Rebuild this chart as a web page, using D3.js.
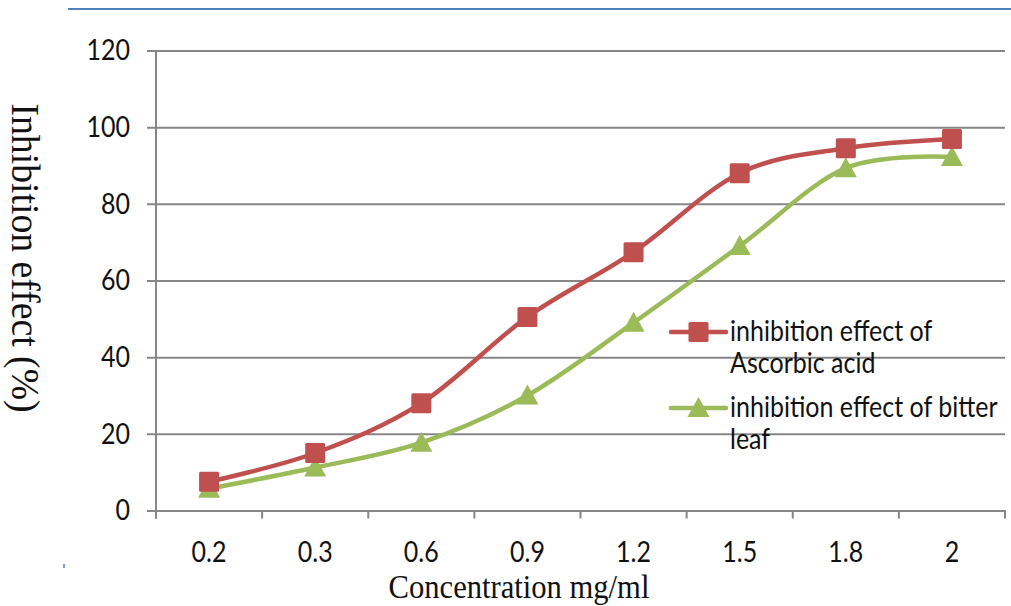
<!DOCTYPE html>
<html>
<head>
<meta charset="utf-8">
<script src="https://cdn.jsdelivr.net/npm/d3@7"></script>
<style>
  html, body { margin: 0; padding: 0; background: #fff; }
  svg { display: block; }
  .tall { transform-box: fill-box; transform-origin: center; transform: scaleY(1.15); }
</style>
</head>
<body>
<svg id="chart" width="1011" height="606"></svg>
<script>
// Concentrations (categorical axis) and inhibition percentages
const categories = ["0.2", "0.3", "0.6", "0.9", "1.2", "1.5", "1.8", "2"];
const ascorbic = [7.5, 15, 28, 50.5, 67.4, 88, 94.5, 96.9];
const bitterLeaf = [5.7, 11.2, 17.7, 30, 49, 69, 89.3, 92.2];
const yTicks = [0, 20, 40, 60, 80, 100, 120];

const svg = d3.select("#chart");
const plotLeft = 156, plotRight = 1005, plotTop = 50.5, plotBottom = 510.5;

const x = d3.scaleBand().domain(categories).range([plotLeft, plotRight]).padding(0);
const y = d3.scaleLinear().domain([0, 120]).range([plotBottom, plotTop]);

const gridColor = "#868686";
const labelFont = "Lato, 'Open Sans', sans-serif";
const serifFont = "'Liberation Serif', 'Times New Roman', serif";

// Decorative blue rule across the top
svg.append("line")
  .attr("x1", 68).attr("x2", 1011).attr("y1", 9).attr("y2", 9)
  .attr("stroke", "#4f81bd").attr("stroke-width", 2);
svg.append("line")
  .attr("x1", 64).attr("x2", 64).attr("y1", 564).attr("y2", 568)
  .attr("stroke", "#4f81bd").attr("stroke-width", 1.5);

// Horizontal gridlines with small outward ticks
const gy = svg.append("g")
  .attr("transform", `translate(${plotLeft},0)`)
  .call(d3.axisLeft(y).tickValues(yTicks).tickSize(-(plotRight - plotLeft)).tickSizeOuter(0).tickPadding(26));
gy.select(".domain").remove();
gy.selectAll(".tick line")
  .attr("x1", -9)
  .attr("stroke", gridColor).attr("stroke-width", 2);
gy.selectAll(".tick text")
  .attr("class", "tall")
  .attr("font-family", labelFont).attr("font-size", 25).attr("fill", "#111");

// Vertical axis line
svg.append("line")
  .attr("x1", plotLeft).attr("x2", plotLeft).attr("y1", plotTop).attr("y2", plotBottom + 8)
  .attr("stroke", gridColor).attr("stroke-width", 2);

// Category axis with ticks between categories
const gx = svg.append("g")
  .attr("transform", `translate(0,${plotBottom})`)
  .call(d3.axisBottom(x).tickSize(0).tickPadding(32));
gx.select(".domain").attr("stroke", gridColor).attr("stroke-width", 2);
gx.selectAll(".tick text")
  .attr("class", "tall")
  .attr("font-family", labelFont).attr("font-size", 25).attr("fill", "#111");
const boundaries = categories.map(c => x(c)).concat([x(categories[categories.length - 1]) + x.bandwidth()]);
gx.selectAll(".sep").data(boundaries).enter().append("line")
  .attr("class", "sep")
  .attr("x1", d => d).attr("x2", d => d).attr("y1", 0).attr("y2", 8)
  .attr("stroke", gridColor).attr("stroke-width", 2);

// Axis titles
svg.append("text")
  .attr("transform", "translate(519,598) scale(0.9,1)")
  .attr("text-anchor", "middle")
  .attr("font-family", serifFont)
  .attr("font-size", 34).attr("fill", "#111")
  .text("Concentration mg/ml");
svg.append("text")
  .attr("transform", "translate(12,258) rotate(90) scale(0.92,1)")
  .attr("text-anchor", "middle")
  .attr("font-family", serifFont)
  .attr("font-size", 41).attr("fill", "#111")
  .text("Inhibition effect (%)");

const cx = c => x(c) + x.bandwidth() / 2;
const line = d3.line().curve(d3.curveCatmullRom.alpha(0));

const series = [
  { values: ascorbic, color: "#c0504d", shape: "square" },
  { values: bitterLeaf, color: "#9bbb59", shape: "triangle" }
];

function drawMarker(g, shape, color, px, py) {
  if (shape === "square") {
    g.append("rect")
      .attr("x", px - 10).attr("y", py - 10).attr("width", 20).attr("height", 20)
      .attr("rx", 1.5)
      .attr("fill", color);
  } else {
    g.append("path")
      .attr("d", `M${px},${py - 11}L${px + 11},${py + 9}L${px - 11},${py + 9}Z`)
      .attr("fill", color);
  }
}

// Draw green series first so red sits on top
[series[1], series[0]].forEach(s => {
  const pts = categories.map((c, i) => [cx(c), y(s.values[i])]);
  svg.append("path")
    .attr("d", line(pts))
    .attr("fill", "none").attr("stroke", s.color).attr("stroke-width", 4.5)
    .attr("stroke-linejoin", "round");
  const g = svg.append("g");
  pts.forEach(p => drawMarker(g, s.shape, s.color, p[0], p[1]));
});

// Legend
const legendItems = [
  { s: series[0], lines: ["inhibition effect of", "Ascorbic acid"], y: 332 },
  { s: series[1], lines: ["inhibition effect of bitter", "leaf"], y: 408 }
];
legendItems.forEach(item => {
  const g = svg.append("g");
  g.append("line")
    .attr("x1", 671).attr("x2", 726).attr("y1", item.y).attr("y2", item.y)
    .attr("stroke", item.s.color).attr("stroke-width", 4.5).attr("stroke-linecap", "round");
  drawMarker(g, item.s.shape, item.s.color, 698.5, item.y);
  item.lines.forEach((l, i) => {
    g.append("text")
      .attr("class", "tall")
      .attr("x", 730).attr("y", item.y + 8 + i * 32)
      .attr("font-family", labelFont).attr("font-size", 25).attr("fill", "#111")
      .text(l);
  });
});
</script>
</body>
</html>
